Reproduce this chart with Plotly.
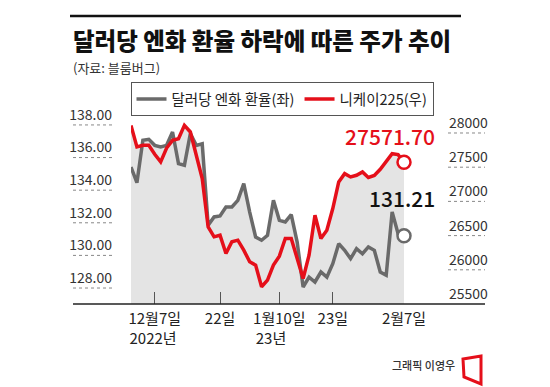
import plotly.graph_objects as go

# ---- data ----
usd_jpy = [135.42, 134.46, 137.06, 137.12, 136.75, 136.65, 136.75, 137.57, 135.63, 135.53,
           137.47, 136.75, 136.85, 131.85, 132.36, 132.42, 132.97, 132.97, 133.38, 134.40,
           132.66, 131.13, 130.93, 131.23, 133.38, 132.15, 132.05, 132.50, 130.82, 128.06,
           128.67, 128.37, 128.98, 128.67, 129.49, 130.72, 130.31, 129.80, 130.41, 130.10,
           130.52, 130.31, 128.98, 128.78, 132.66, 131.33, 131.21]
nikkei = [28110, 27796, 27820, 27820, 27690, 27577, 27780, 27893, 27917, 28112,
          28015, 27698, 27333, 26628, 26482, 26506, 26238, 26409, 26433, 26287,
          26117, 26068, 25752, 25850, 26068, 26200, 26457, 26457, 26165, 25873,
          26213, 26798, 26457, 26579, 26895, 27285, 27406, 27358, 27382, 27431,
          27350, 27380, 27470, 27577, 27698, 27684, 27571.70]
x_pos = list(range(len(usd_jpy)))
x_tick_pos = [4, 15, 25, 34, 46]
x_tick_text = ["12월7일<br>2022년&nbsp;", "22일", "1월10일<br>23년&nbsp;&nbsp;&nbsp;&nbsp;&nbsp;", "23일", "2월7일"]
left_ticks = [128, 130, 132, 134, 136, 138]
right_ticks = [25500, 26000, 26500, 27000, 27500, 28000]
series_names = ["달러당 엔화 환율(좌)", "니케이225(우)"]

RED = "#e50f1a"
GRAY = "#6a6a6a"
FILL = "#e4e4e4"
FONT = "Noto Sans CJK KR"

W, H = 550, 387
OFF = 8  # page body margin
# plot area in screen pixels: x 131..404, y 115..304
L, T = 131 - OFF, 115 - OFF
R, B = W - (404 - OFF), H - (304 - OFF)
PW, PH = W - L - R, H - T - B


def px(xp):
    return (xp - OFF - L) / PW


def py(yp):
    return (H - B - (yp - OFF)) / PH


left_range = [127.02, 138.61]
right_range = [25500, 28263]

fig = go.Figure()
fig.add_trace(go.Scatter(x=x_pos, y=usd_jpy, yaxis="y", fill="tozeroy", fillcolor=FILL,
                         mode="none", showlegend=False, hoverinfo="skip"))
fig.add_trace(go.Scatter(x=x_pos, y=nikkei, yaxis="y2", fill="tozeroy", fillcolor=FILL,
                         mode="none", showlegend=False, hoverinfo="skip"))
fig.add_trace(go.Scatter(x=x_pos, y=usd_jpy, yaxis="y3", mode="lines", name=series_names[0],
                         line=dict(color=GRAY, width=3.5)))
fig.add_trace(go.Scatter(x=x_pos, y=nikkei, yaxis="y4", mode="lines", name=series_names[1],
                         line=dict(color=RED, width=3.5)))
fig.add_trace(go.Scatter(x=[x_pos[-1]], y=[usd_jpy[-1]], yaxis="y3", mode="markers",
                         marker=dict(size=13, color="white", line=dict(color=GRAY, width=2.5)),
                         showlegend=False, cliponaxis=False))
fig.add_trace(go.Scatter(x=[x_pos[-1]], y=[nikkei[-1]], yaxis="y4", mode="markers",
                         marker=dict(size=13, color="white", line=dict(color=RED, width=2.5)),
                         showlegend=False, cliponaxis=False))

shapes = []
# top rule
shapes.append(dict(type="line", xref="paper", yref="paper", x0=px(70), x1=px(461),
                   y0=py(16), y1=py(16), line=dict(color="#111", width=2.5)))
# bottom axis line
shapes.append(dict(type="line", xref="paper", yref="paper", x0=px(73), x1=px(485),
                   y0=0, y1=0, line=dict(color="#222", width=1.5)))
for v in left_ticks:
    shapes.append(dict(type="line", xref="paper", yref="y", x0=px(73), x1=px(113), y0=v, y1=v,
                       line=dict(color="#888", width=1, dash="dot")))
for v in right_ticks[1:]:
    shapes.append(dict(type="line", xref="paper", yref="y2", x0=px(448), x1=px(485), y0=v, y1=v,
                       line=dict(color="#888", width=1, dash="dot")))
# red logo
logo = [(463, 359), (481, 356), (481, 384), (464, 377)]
path = "M " + " L ".join(f"{px(a)},{py(b)}" for a, b in logo) + " Z"
shapes.append(dict(type="path", xref="paper", yref="paper", path=path,
                   line=dict(color=RED, width=3), fillcolor="rgba(0,0,0,0)"))

annotations = [
    dict(text="달러당 엔화 환율 하락에 따른 주가 추이", xref="paper", yref="paper",
         x=px(71), y=py(40), xanchor="left", yanchor="middle", showarrow=False,
         font=dict(family=FONT, size=23.5, color="#111", weight=900)),
    dict(text="(자료: 블룸버그)", xref="paper", yref="paper", x=px(71), y=py(67),
         xanchor="left", yanchor="middle", showarrow=False,
         font=dict(family=FONT, size=13, color="#333")),
    dict(text=f"{nikkei[-1]:.2f}", xref="x", yref="y2", x=x_pos[-1], y=nikkei[-1],
         xshift=-14, yshift=26, showarrow=False,
         font=dict(family=FONT, size=21, color=RED, weight=500)),
    dict(text=f"{usd_jpy[-1]:.2f}", xref="x", yref="y", x=x_pos[-1], y=usd_jpy[-1],
         xshift=-2, yshift=38, showarrow=False,
         font=dict(family=FONT, size=21, color="#111", weight=500)),
    dict(text="그래픽 이영우", xref="paper", yref="paper", x=px(457), y=py(365),
         xanchor="right", yanchor="middle", showarrow=False,
         font=dict(family=FONT, size=11, color="#333", weight=500)),
]

fig.update_layout(
    width=W, height=H, autosize=False,
    margin=dict(l=L, r=R, t=T, b=B, autoexpand=False),
    paper_bgcolor="white", plot_bgcolor="white",
    font=dict(family=FONT, color="#222"),
    showlegend=True,
    legend=dict(orientation="h", xref="paper", yref="paper",
                x=px(130.5), y=py(82), xanchor="left", yanchor="top",
                bordercolor="#555", borderwidth=1, font=dict(family=FONT, size=14.5, color="#222"),
                itemwidth=30, bgcolor="white", tracegroupgap=0),
    xaxis=dict(range=[0, x_pos[-1]], tickvals=x_tick_pos, ticktext=x_tick_text,
               ticks="inside", ticklen=12, tickcolor="#555", tickwidth=1,
               showline=False, showgrid=False, zeroline=False,
               tickfont=dict(family=FONT, size=15, color="#222"), ticklabelstandoff=4),
    yaxis=dict(range=left_range, tickvals=left_ticks, tickformat=".2f", side="left",
               showgrid=False, zeroline=False, showline=False, ticks="",
               tickfont=dict(family=FONT, size=14, color="#333"),
               ticklabelstandoff=18, ticklabelshift=-10),
    yaxis2=dict(range=right_range, tickvals=right_ticks, tickformat="d", side="right",
                overlaying="y", showgrid=False, zeroline=False, showline=False, ticks="",
                tickfont=dict(family=FONT, size=14, color="#333"),
                ticklabelstandoff=44, ticklabelshift=-10),
    yaxis3=dict(range=left_range, overlaying="y", visible=False),
    yaxis4=dict(range=right_range, overlaying="y", visible=False),
    shapes=shapes,
    annotations=annotations,
)

fig.write_html("out.html")
